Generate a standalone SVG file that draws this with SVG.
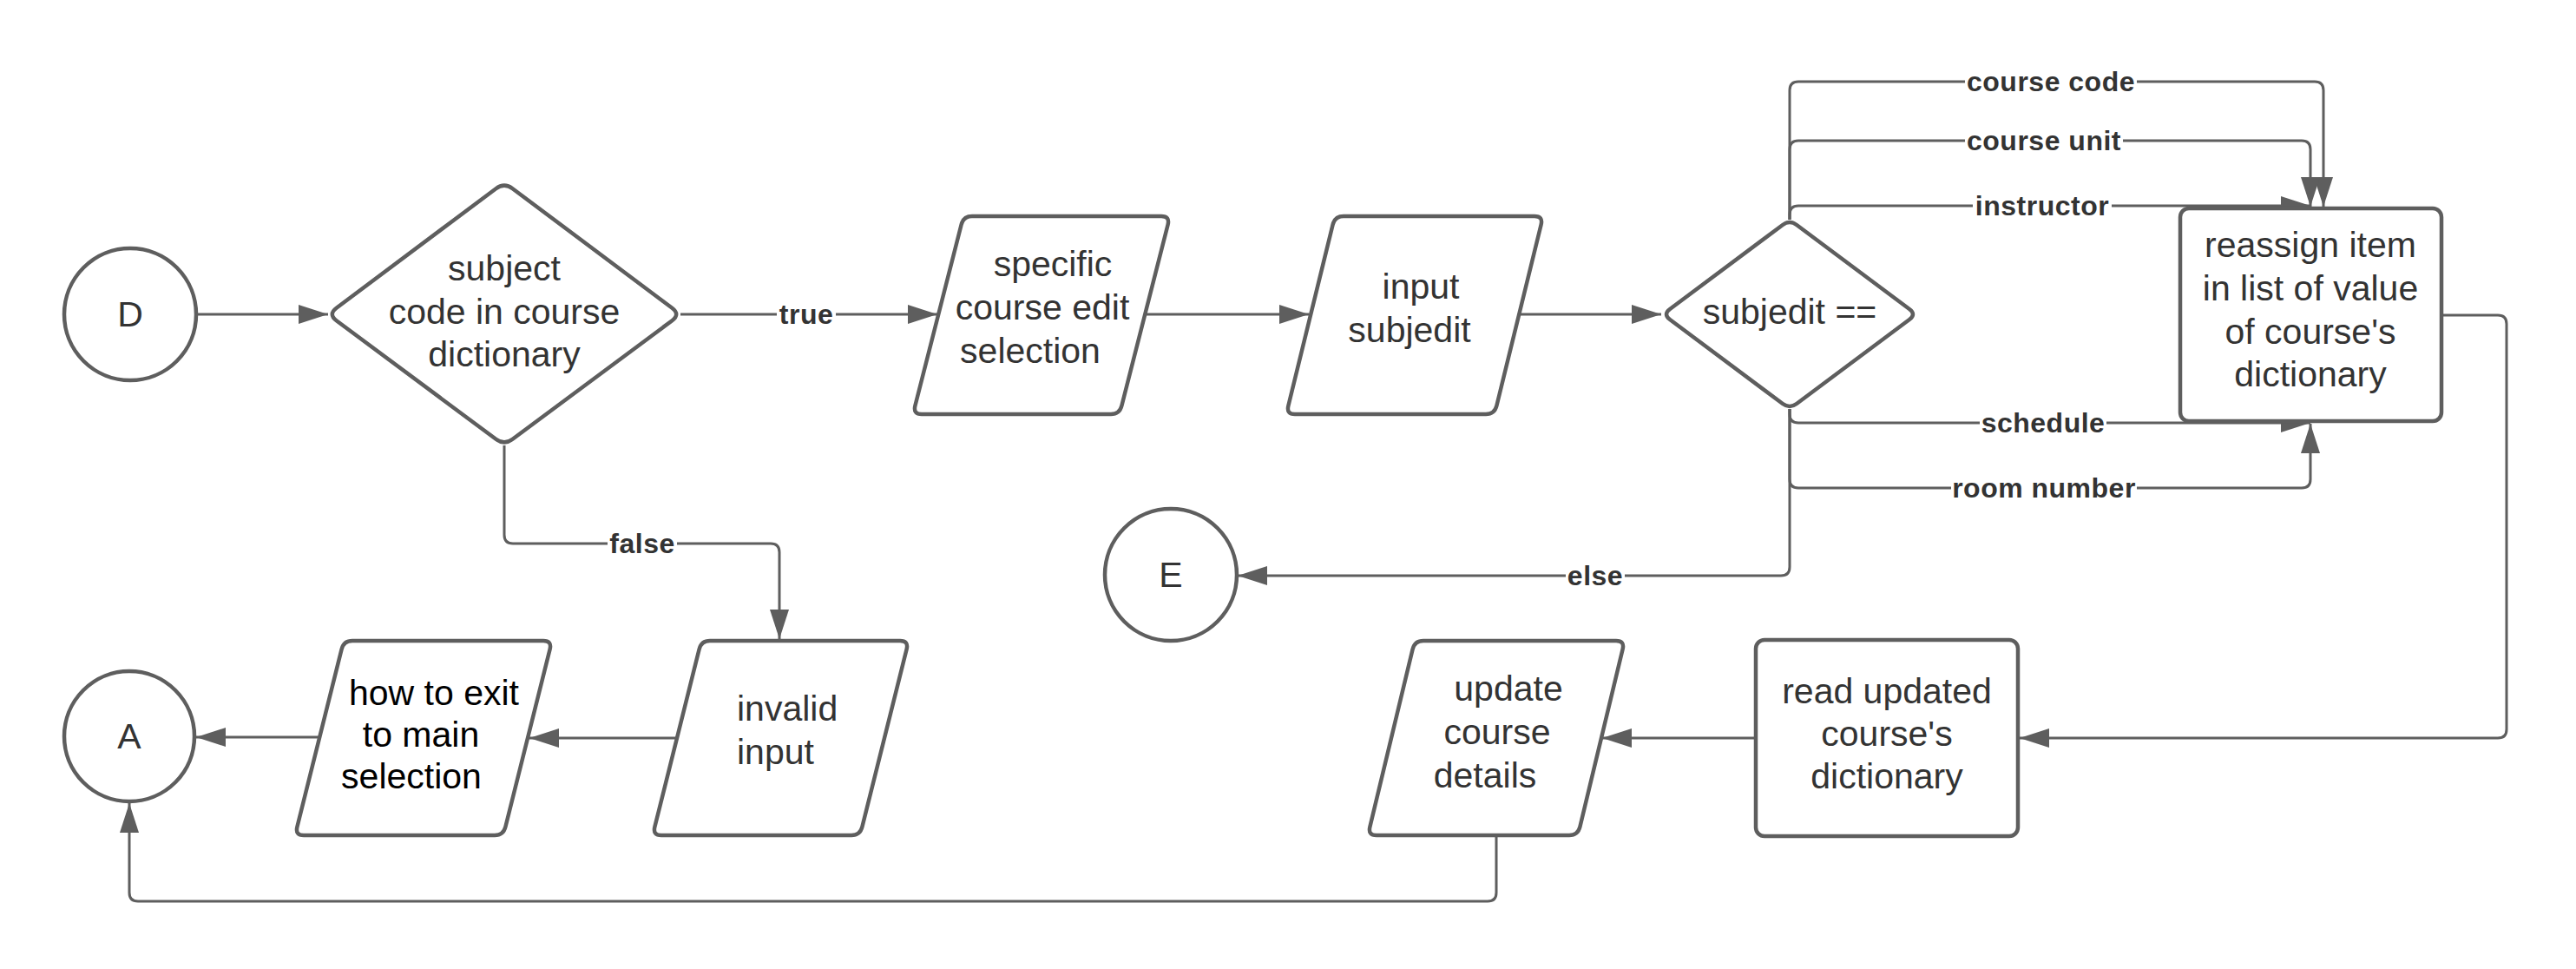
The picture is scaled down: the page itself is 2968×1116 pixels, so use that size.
<svg xmlns="http://www.w3.org/2000/svg" width="2968" height="1116" viewBox="0 0 2968 1116">
<defs>
<marker id="ah" markerUnits="userSpaceOnUse" markerWidth="34" markerHeight="22" refX="34" refY="11" orient="auto">
<path d="M0,0 L34,11 L0,22 Z" fill="#5e5e5e"/>
</marker>
<style>
.node{fill:#ffffff;stroke:#5e5e5e;stroke-width:4.5;stroke-linejoin:round}
.t{font-family:"Liberation Sans",Arial,sans-serif;font-size:41px;fill:#333333;text-anchor:middle}
.tb{fill:#000000}
.c{fill:none;stroke:#5e5e5e;stroke-width:3}
.a{marker-end:url(#ah)}
.lb{fill:#ffffff}
.l{font-family:"Liberation Sans",Arial,sans-serif;font-size:32px;font-weight:bold;letter-spacing:0.5px;fill:#333333;text-anchor:middle}
</style>
</defs>
<rect width="2968" height="1116" fill="#ffffff"/>
<g id="connectors">
<path class="c a" d="M226,362 L378,362"/>
<path class="c a" d="M784,362 L1080,362"/>
<path class="c a" d="M1319,362 L1508,362"/>
<path class="c a" d="M1750,362 L1914,362"/>
<path class="c a" d="M581,513 L581,616 Q581,626 591,626 L888,626 Q898,626 898,636 L898,736"/>
<path class="c a" d="M2062,253 L2062,104 Q2062,94 2072,94 L2667,94 Q2677,94 2677,104 L2677,238"/>
<path class="c a" d="M2062,253 L2062,172 Q2062,162 2072,162 L2652,162 Q2662,162 2662,172 L2662,238"/>
<path class="c a" d="M2062,253 L2062,247 Q2062,237 2072,237 L2662,237"/>
<path class="c a" d="M2062,471 L2062,477 Q2062,487 2072,487 L2662,487"/>
<path class="c a" d="M2062,471 L2062,552 Q2062,562 2072,562 L2652,562 Q2662,562 2662,552 L2662,488"/>
<path class="c a" d="M2062,471 L2062,653 Q2062,663 2052,663 L1426,663"/>
<path class="c a" d="M2813,363 L2878,363 Q2888,363 2888,373 L2888,840 Q2888,850 2878,850 L2327,850"/>
<path class="c a" d="M2023,850 L1846,850"/>
<path class="c a" d="M780,850 L610,850"/>
<path class="c a" d="M368,849 L226,849"/>
<path class="c a" d="M1724,962 L1724,1028 Q1724,1038 1714,1038 L159,1038 Q149,1038 149,1028 L149,925"/>
<g id="labels">
<rect class="lb" x="895" y="346" width="68" height="32"/><text class="l" x="929" y="373">true</text>
<rect class="lb" x="700" y="610" width="80" height="32"/><text class="l" x="740" y="637">false</text>
<rect class="lb" x="2264" y="78" width="198" height="32"/><text class="l" x="2363" y="105">course code</text>
<rect class="lb" x="2264" y="146" width="182" height="32"/><text class="l" x="2355" y="173">course unit</text>
<rect class="lb" x="2273" y="221" width="160" height="32"/><text class="l" x="2353" y="248">instructor</text>
<rect class="lb" x="2281" y="471" width="146" height="32"/><text class="l" x="2354" y="498">schedule</text>
<rect class="lb" x="2248" y="546" width="214" height="32"/><text class="l" x="2355" y="573">room number</text>
<rect class="lb" x="1804" y="647" width="68" height="32"/><text class="l" x="1838" y="674">else</text>
</g>
</g>
<g id="node-D">
<circle class="node" cx="150" cy="362" r="76"/>
<text class="t" x="150" y="376">D</text>
</g>
<g id="node-subject-code">
<path class="node" d="M571.4,217.2 Q581,210 590.6,217.2 L774.4,354.8 Q784,362 774.4,369.2 L590.6,505.8 Q581,513 571.4,505.8 L387.6,369.2 Q378,362 387.6,354.8 Z"/>
<text class="t" x="581" y="323">subject</text>
<text class="t" x="581" y="373">code in course</text>
<text class="t" x="581" y="422">dictionary</text>
</g>
<g id="node-specific">
<path class="node" d="M1120,249 L1338,249 Q1348,249 1345.6,258.7 L1292.4,467.3 Q1290,477 1280,477 L1062,477 Q1052,477 1054.4,467.3 L1107.6,258.7 Q1110,249 1120,249 Z"/>
<text class="t" x="1213" y="318">specific</text>
<text class="t" x="1201" y="368">course edit</text>
<text class="t" x="1187" y="418">selection</text>
</g>
<g id="node-input-subjedit">
<path class="node" d="M1548,249 L1768,249 Q1778,249 1775.6,258.7 L1724.4,467.3 Q1722,477 1712,477 L1492,477 Q1482,477 1484.4,467.3 L1535.6,258.7 Q1538,249 1548,249 Z"/>
<text class="t" x="1637" y="344">input</text>
<text class="t" x="1624" y="394">subjedit</text>
</g>
<g id="node-subjedit-eq">
<path class="node" d="M2054,259 Q2062,253 2070,259 L2200,356 Q2208,362 2200,368 L2070,465 Q2062,471 2054,465 L1924,368 Q1916,362 1924,356 Z"/>
<text class="t" x="2062" y="373">subjedit ==</text>
</g>
<g id="node-reassign">
<rect class="node" x="2512" y="240" width="301" height="245" rx="10"/>
<text class="t" x="2662" y="296">reassign item</text>
<text class="t" x="2662" y="346">in list of value</text>
<text class="t" x="2662" y="396">of course's</text>
<text class="t" x="2662" y="445">dictionary</text>
</g>
<g id="node-E">
<circle class="node" cx="1349" cy="662" r="76"/>
<text class="t" x="1349" y="676">E</text>
</g>
<g id="node-read-updated">
<rect class="node" x="2023" y="737" width="302" height="226" rx="10"/>
<text class="t" x="2174" y="810">read updated</text>
<text class="t" x="2174" y="859">course's</text>
<text class="t" x="2174" y="908">dictionary</text>
</g>
<g id="node-update-details">
<path class="node" d="M1640,738 L1862,738 Q1872,738 1869.6,747.7 L1820.4,952.3 Q1818,962 1808,962 L1586,962 Q1576,962 1578.4,952.3 L1627.6,747.7 Q1630,738 1640,738 Z"/>
<text class="t" x="1738" y="807">update</text>
<text class="t" x="1725" y="857">course</text>
<text class="t" x="1711" y="907">details</text>
</g>
<g id="node-invalid">
<path class="node" d="M818,738 L1037,738 Q1047,738 1044.6,747.7 L993.4,952.3 Q991,962 981,962 L762,962 Q752,962 754.4,952.3 L805.6,747.7 Q808,738 818,738 Z"/>
<text class="t" x="849" y="830" style="text-anchor:start">invalid</text>
<text class="t" x="849" y="880" style="text-anchor:start">input</text>
</g>
<g id="node-how-to-exit">
<path class="node" d="M406,738 L626,738 Q636,738 633.6,747.7 L582.4,952.3 Q580,962 570,962 L350,962 Q340,962 342.4,952.3 L393.6,747.7 Q396,738 406,738 Z"/>
<text class="t tb" x="500" y="812">how to exit</text>
<text class="t tb" x="485" y="860">to main</text>
<text class="t tb" x="474" y="908">selection</text>
</g>
<g id="node-A">
<circle class="node" cx="149" cy="848" r="75"/>
<text class="t" x="149" y="862">A</text>
</g>
</svg>
